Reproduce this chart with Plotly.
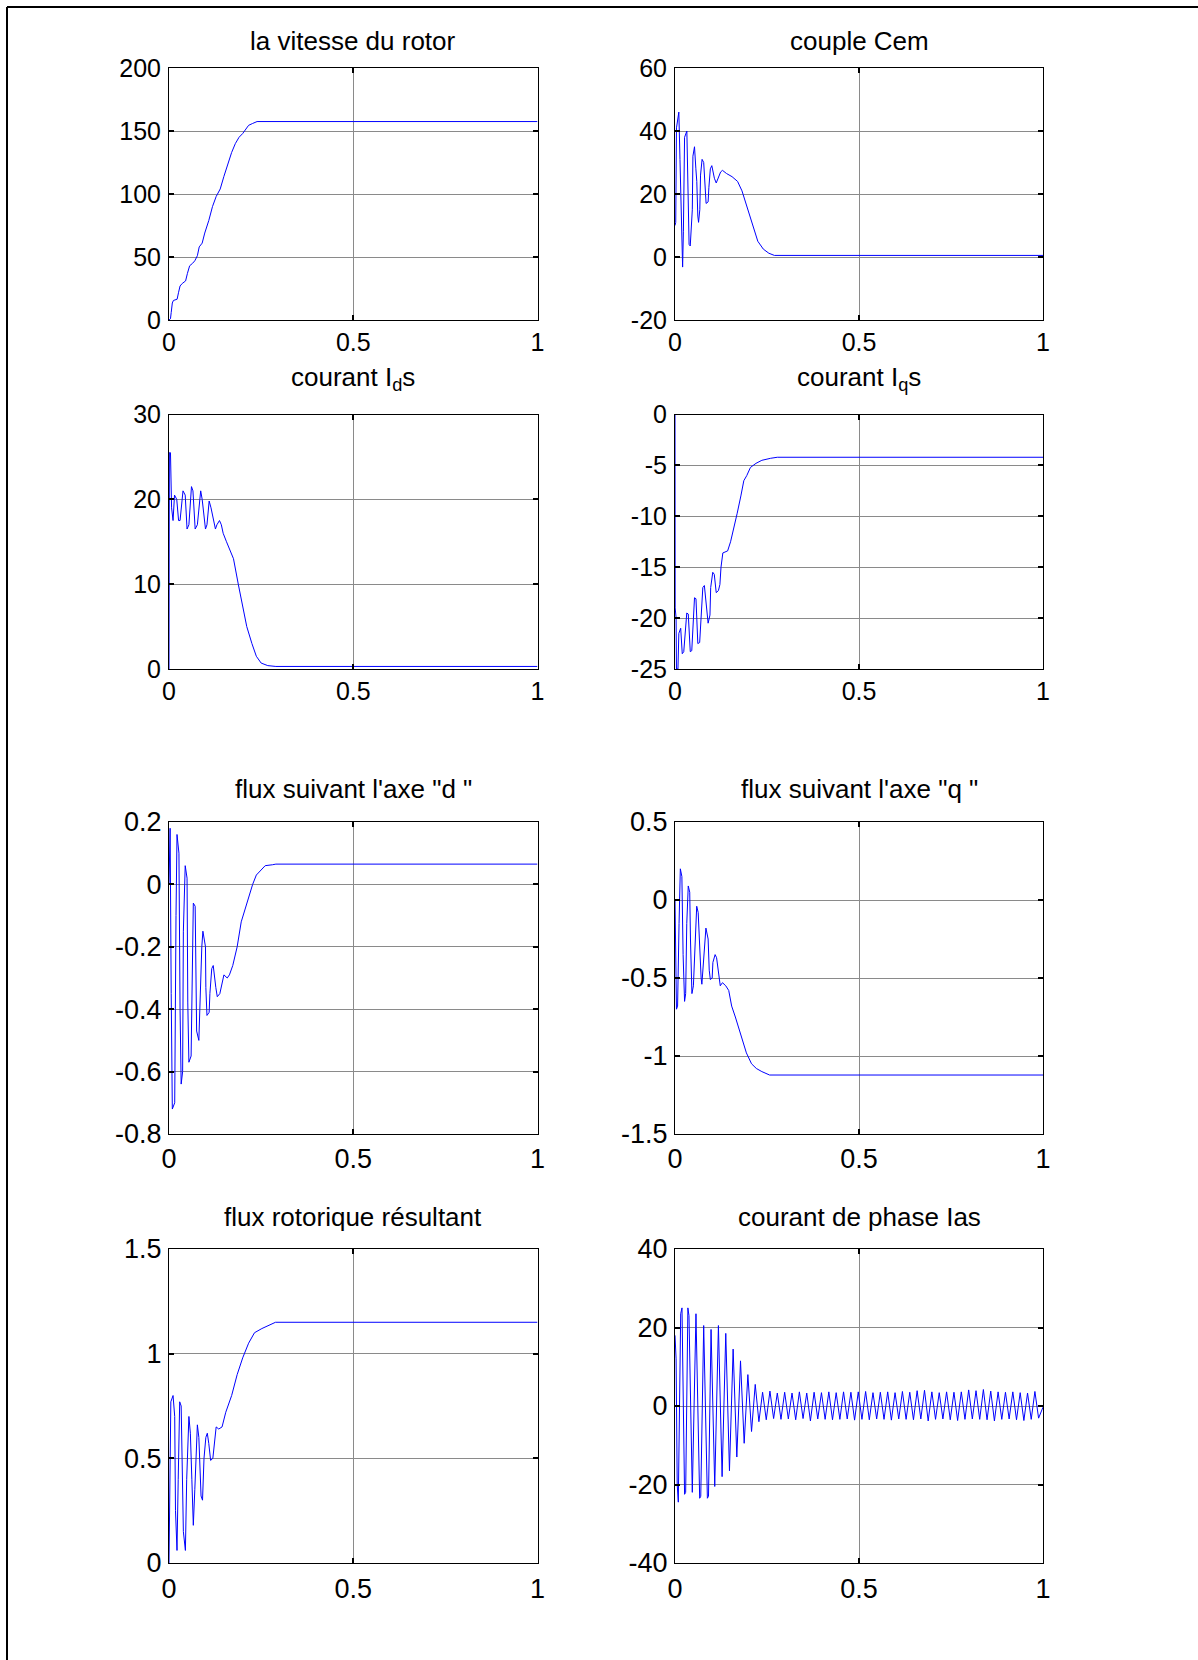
import plotly.graph_objects as go
from plotly.subplots import make_subplots

W, H = 1198, 1660

# ---------------- data ----------------
x_ticks = [0, 0.5, 1]
x_ticktext = ["0", "0.5", "1"]

# la vitesse du rotor
t_speed = [0, 0.004, 0.006, 0.009, 0.012, 0.022, 0.026, 0.030, 0.036, 0.045, 0.050, 0.056,
           0.064, 0.070, 0.077, 0.082, 0.090, 0.097, 0.108, 0.118, 0.128, 0.139, 0.149,
           0.159, 0.170, 0.180, 0.190, 0.200, 0.206, 0.216, 0.227, 0.239, 1.0]
v_speed = [0, 1, 6, 13.5, 15.5, 16.5, 22, 27, 29, 31, 37, 43,
           45, 47, 51, 58, 61, 69, 79, 90, 98, 104, 114,
           124, 133, 140, 145, 148, 150.5, 154.5, 156, 157.5, 157.5]

# couple Cem
t_cem = [0, 0.002, 0.004, 0.007, 0.0104, 0.0135, 0.017, 0.0207, 0.0228, 0.026, 0.0322, 0.0342,
         0.0363, 0.0383, 0.0414, 0.0445, 0.047, 0.0487, 0.053, 0.0567, 0.0592, 0.062, 0.064,
         0.0674, 0.0694, 0.0736, 0.078, 0.0845, 0.090, 0.092, 0.096, 0.100, 0.107, 0.112,
         0.118, 0.124, 0.129, 0.140, 0.155, 0.170, 0.182, 0.195, 0.210, 0.225, 0.240, 0.255,
         0.270, 1.0]
v_cem = [10, 11, 41, 43, 46, 31, 10, -3.2, 8, 38, 40, 28,
         25, 4, 3.5, 13, 15, 32, 35, 28, 24, 13, 11,
         15, 26, 31, 30, 17, 17.5, 22, 28, 29, 25, 23.5,
         25, 27, 27.5, 26.5, 25.5, 24, 21, 16, 10, 5, 2.5, 1.2,
         0.5, 0.5]

# courant Ids
t_ids = [0, 0.001, 0.004, 0.005, 0.007, 0.011, 0.015, 0.021, 0.026, 0.030, 0.038, 0.044,
         0.049, 0.054, 0.061, 0.065, 0.071, 0.077, 0.086, 0.090, 0.099, 0.103, 0.109, 0.114,
         0.126, 0.130, 0.137, 0.142, 0.147, 0.156, 0.165, 0.175, 0.188, 0.201, 0.211, 0.225,
         0.237, 0.250, 0.268, 0.290, 1.0]
v_ids = [0, 25.5, 25.5, 20, 19, 17.5, 20.5, 20, 17.5, 17.5, 21, 20.5,
         16.5, 17, 21.5, 21, 16.5, 17, 21, 20, 16.5, 17, 19.8, 19,
         16.5, 17, 17.5, 17, 16, 15, 14, 13, 10, 7, 5, 3,
         1.5, 0.7, 0.4, 0.3, 0.3]

# courant Iqs
t_iqs = [0, 0.0005, 0.003, 0.004, 0.008, 0.0104, 0.0155, 0.0197, 0.0238, 0.028, 0.032, 0.036,
         0.0415, 0.0456, 0.0487, 0.053, 0.057, 0.062, 0.067, 0.0715, 0.0756, 0.0798, 0.090,
         0.095, 0.097, 0.1026, 0.1067, 0.112, 0.118, 0.122, 0.125, 0.130, 0.143, 0.151,
         0.158, 0.169, 0.179, 0.187, 0.195, 0.205, 0.220, 0.236, 0.260, 0.278, 1.0]
v_iqs = [0, -19, -20, -25, -25, -21.5, -21, -23.5, -23.3, -21.5, -19.5, -19.6,
         -23.3, -23.2, -20.7, -18, -18.1, -22.5, -22.4, -20, -17, -16.8, -20.5,
         -19.7, -17, -15.5, -15.7, -17.5, -17.3, -16.7, -15, -13.6, -13.4, -12.5,
         -11.5, -9.7, -8, -6.5, -6, -5.2, -4.8, -4.5, -4.3, -4.2, -4.2]

# flux suivant l'axe "d"
t_phid = [0, 0.001, 0.003, 0.006, 0.009, 0.0155, 0.0176, 0.019, 0.0217, 0.027, 0.030, 0.033,
          0.037, 0.039, 0.044, 0.049, 0.051, 0.054, 0.060, 0.063, 0.066, 0.071, 0.075, 0.081,
          0.083, 0.089, 0.092, 0.099, 0.100, 0.103, 0.109, 0.111, 0.116, 0.120, 0.127, 0.131,
          0.138, 0.143, 0.149, 0.158, 0.164, 0.173, 0.185, 0.196, 0.211, 0.227, 0.237, 0.261,
          0.281, 0.290, 1.0]
v_phid = [0, 0.18, 0.18, -0.35, -0.72, -0.70, -0.15, -0.10, 0.16, 0.10, -0.40, -0.64,
          -0.60, -0.15, 0.06, 0.02, -0.38, -0.57, -0.55, -0.30, -0.06, -0.07, -0.47, -0.50,
          -0.40, -0.20, -0.15, -0.20, -0.33, -0.42, -0.41, -0.35, -0.27, -0.26, -0.33, -0.36,
          -0.35, -0.32, -0.29, -0.30, -0.29, -0.26, -0.20, -0.12, -0.06, 0.0, 0.03, 0.06,
          0.063, 0.065, 0.065]

# flux suivant l'axe "q"
t_phiq = [0, 0.002, 0.004, 0.007, 0.009, 0.011, 0.0145, 0.0187, 0.022, 0.024, 0.026, 0.029,
          0.032, 0.036, 0.040, 0.042, 0.044, 0.046, 0.050, 0.055, 0.059, 0.063, 0.066, 0.071,
          0.073, 0.078, 0.084, 0.090, 0.093, 0.096, 0.101, 0.103, 0.109, 0.113, 0.118, 0.123,
          0.129, 0.138, 0.146, 0.154, 0.164, 0.173, 0.183, 0.194, 0.208, 0.221, 0.236, 0.257,
          1.0]
v_phiq = [0, -0.35, -0.70, -0.68, -0.20, -0.15, 0.20, 0.15, -0.35, -0.45, -0.65, -0.60,
          -0.15, 0.09, 0.05, -0.25, -0.40, -0.60, -0.55, -0.20, -0.04, -0.08, -0.28, -0.50,
          -0.54, -0.35, -0.18, -0.25, -0.45, -0.51, -0.50, -0.40, -0.35, -0.37, -0.47, -0.55,
          -0.53, -0.55, -0.58, -0.68, -0.75, -0.82, -0.90, -0.98, -1.05, -1.08, -1.10, -1.122,
          -1.122]

# flux rotorique résultant
t_phir = [0, 0.002, 0.005, 0.011, 0.0155, 0.0176, 0.0217, 0.025, 0.029, 0.033, 0.036, 0.039,
          0.0445, 0.048, 0.054, 0.058, 0.062, 0.066, 0.070, 0.074, 0.077, 0.081, 0.084, 0.087,
          0.091, 0.095, 0.100, 0.104, 0.108, 0.113, 0.119, 0.123, 0.128, 0.135, 0.144, 0.154,
          0.170, 0.185, 0.200, 0.216, 0.232, 0.252, 0.278, 0.289, 1.0]
v_phir = [0, 0.40, 0.77, 0.80, 0.70, 0.25, 0.06, 0.40, 0.77, 0.75, 0.50, 0.15,
          0.06, 0.40, 0.70, 0.62, 0.40, 0.18, 0.35, 0.60, 0.66, 0.60, 0.45, 0.32,
          0.30, 0.50, 0.60, 0.62, 0.57, 0.49, 0.50, 0.58, 0.65, 0.64, 0.65, 0.72,
          0.80, 0.90, 0.98, 1.05, 1.10, 1.12, 1.14, 1.15, 1.15]

# courant de phase Ias : start-up transient extremes
t_ias_start = [0, 0.003, 0.006, 0.009, 0.0155, 0.019, 0.026, 0.029, 0.035, 0.038, 0.047, 0.057,
               0.067, 0.070, 0.078, 0.088, 0.091, 0.098, 0.108, 0.118, 0.128, 0.138, 0.148,
               0.158, 0.168, 0.178, 0.188, 0.198, 0.208, 0.218, 0.228, 0.238]
v_ias_start = [18, 12, -20, -24.5, 23.5, 25, -22.5, -22, 25, 23, -22, 23.5,
               -23.5, -23, 20.5, -23.5, -23, 19.5, -20.5, 20.5, -18, 18.5, -16.5,
               14.5, -13, 11.5, -9.5, 8, -6.5, 5.5, -4, 3.5]
# steady-state troughs and peaks
t_ias_trough = [0.248, 0.268, 0.288, 0.308, 0.328, 0.348, 0.368, 0.388, 0.408, 0.428,
                0.448, 0.468, 0.488, 0.508, 0.528, 0.548, 0.568, 0.588, 0.608, 0.628,
                0.648, 0.668, 0.688, 0.708, 0.728, 0.748, 0.768, 0.788, 0.808, 0.828,
                0.848, 0.868, 0.888, 0.908, 0.928, 0.948, 0.968, 0.988]
v_ias_trough = [-3.5, -3.2, -3.4, -3.3, -3.5, -3.2, -3.8, -3.3, -3.4, -3.5,
                -3.4, -3.3, -3.6, -3.4, -3.5, -3.3, -3.4, -3.6, -3.3, -3.4,
                -3.5, -3.3, -3.8, -3.4, -3.3, -3.5, -3.7, -3.4, -3.3, -3.4,
                -3.5, -3.8, -3.4, -3.3, -3.5, -3.7, -3.4, -3.1]
t_ias_peak = [0.258, 0.278, 0.298, 0.318, 0.338, 0.358, 0.378, 0.398, 0.418, 0.438,
              0.458, 0.478, 0.498, 0.518, 0.538, 0.558, 0.578, 0.598, 0.618, 0.638,
              0.658, 0.678, 0.698, 0.718, 0.738, 0.758, 0.778, 0.798, 0.818, 0.838,
              0.858, 0.878, 0.898, 0.918, 0.938, 0.958, 0.978]
v_ias_peak = [3.8, 3.3, 3.5, 3.3, 3.6, 3.3, 3.5, 3.4, 3.6, 3.4,
              3.6, 3.5, 3.6, 3.7, 3.4, 3.5, 3.6, 3.4, 3.7, 3.5,
              3.9, 4.0, 3.6, 3.4, 3.6, 3.5, 3.6, 4.1, 3.9, 4.2,
              3.8, 3.6, 3.5, 3.6, 3.4, 3.3, 3.7]
t_ias_end = [1.0]
v_ias_end = [-0.3]

# build Ias series in time order from the lists above
_pts = list(zip(t_ias_start, v_ias_start)) + list(zip(t_ias_trough, v_ias_trough)) \
    + list(zip(t_ias_peak, v_ias_peak)) + list(zip(t_ias_end, v_ias_end))
_pts.sort(key=lambda p: p[0])
t_ias = [p[0] for p in _pts]
v_ias = [p[1] for p in _pts]

titles = ["la vitesse du rotor", "couple Cem",
          "courant I<sub>d</sub>s", "courant I<sub>q</sub>s",
          "flux suivant l'axe \"d \"", "flux suivant l'axe \"q \"",
          "flux rotorique résultant", "courant de phase Ias"]

y_ticks = [[0, 50, 100, 150, 200], [-20, 0, 20, 40, 60],
           [0, 10, 20, 30], [-25, -20, -15, -10, -5, 0],
           [-0.8, -0.6, -0.4, -0.2, 0, 0.2], [-1.5, -1, -0.5, 0, 0.5],
           [0, 0.5, 1, 1.5], [-40, -20, 0, 20, 40]]
y_ticktext = [["0", "50", "100", "150", "200"], ["-20", "0", "20", "40", "60"],
              ["0", "10", "20", "30"], ["-25", "-20", "-15", "-10", "-5", "0"],
              ["-0.8", "-0.6", "-0.4", "-0.2", "0", "0.2"], ["-1.5", "-1", "-0.5", "0", "0.5"],
              ["0", "0.5", "1", "1.5"], ["-40", "-20", "0", "20", "40"]]

series = [(t_speed, v_speed), (t_cem, v_cem), (t_ids, v_ids), (t_iqs, v_iqs),
          (t_phid, v_phid), (t_phiq, v_phiq), (t_phir, v_phir), (t_ias, v_ias)]

# ---------------- layout geometry (pixels) ----------------
col_px = [(169, 537.5), (675, 1043)]
row_px = [(68, 320), (414.5, 669), (822, 1134), (1249, 1563)]
title_px = [41, 378, 789, 1217]
tick_font = [25, 25, 27, 27]
title_font = [26, 26, 26, 26]
x_standoff = [0, 0, 1, 2]
y_standoff = [2, 2, 1, 1]

FONT = "Liberation Sans, Arial, sans-serif"

fig = make_subplots(rows=4, cols=2)

for i, ((t, v), yt, ytt, ttl) in enumerate(zip(series, y_ticks, y_ticktext, titles)):
    r, c = divmod(i, 2)
    fig.add_trace(go.Scatter(x=t, y=v, mode="lines",
                             line=dict(color="#0000ff", width=1),
                             showlegend=False, hoverinfo="skip"),
                  row=r + 1, col=c + 1)
    xd = [col_px[c][0] / W, col_px[c][1] / W]
    yd = [1 - row_px[r][1] / H, 1 - row_px[r][0] / H]
    common = dict(showline=True, linecolor="black", linewidth=1, mirror="ticks",
                  ticks="inside", ticklen=5, tickwidth=2, tickcolor="black",
                  showgrid=True, gridcolor="#8a8a8a", gridwidth=1, zeroline=False,
                  automargin=False, fixedrange=True,
                  tickfont=dict(family=FONT, size=tick_font[r], color="black"))
    fig.update_xaxes(domain=xd, range=[0, 1], tickmode="array", tickvals=x_ticks,
                     ticktext=x_ticktext, ticklabelstandoff=x_standoff[r],
                     row=r + 1, col=c + 1, **common)
    fig.update_yaxes(domain=yd, range=[yt[0], yt[-1]], tickmode="array", tickvals=yt,
                     ticktext=ytt, ticklabelstandoff=y_standoff[r],
                     row=r + 1, col=c + 1, **common)
    fig.add_annotation(text=ttl, xref="paper", yref="paper",
                       x=(col_px[c][0] + col_px[c][1]) / 2 / W,
                       y=1 - title_px[r] / H, xanchor="center", yanchor="middle",
                       showarrow=False,
                       font=dict(family=FONT, size=title_font[r], color="black"))

# outer frame (top and left edges visible in the reference)
fig.add_shape(type="line", xref="paper", yref="paper",
              x0=7 / W, x1=1.0, y0=1 - 7 / H, y1=1 - 7 / H,
              line=dict(color="black", width=2))
fig.add_shape(type="line", xref="paper", yref="paper",
              x0=7 / W, x1=7 / W, y0=0, y1=1 - 7 / H,
              line=dict(color="black", width=2))

fig.update_layout(width=W, height=H, margin=dict(l=0, r=0, t=0, b=0),
                  paper_bgcolor="white", plot_bgcolor="white", showlegend=False)

fig.write_html("out.html", config={"displayModeBar": False},
               post_script="document.body.style.margin='0px';")
